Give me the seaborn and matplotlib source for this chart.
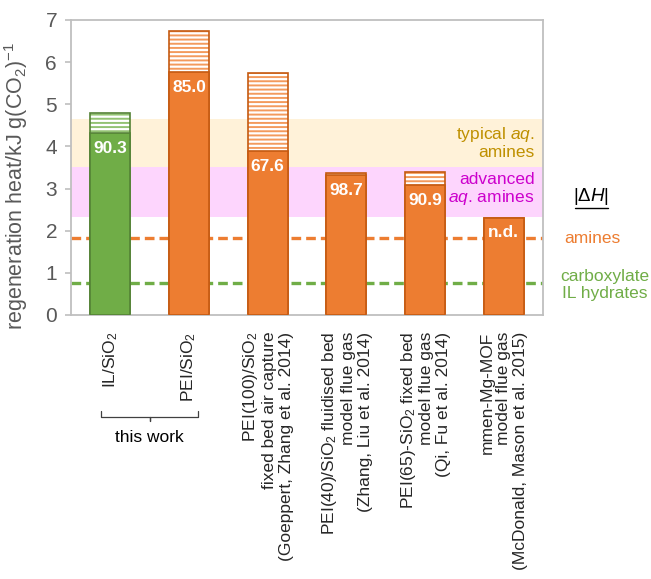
import matplotlib
matplotlib.use("Agg")
import matplotlib.pyplot as plt
from matplotlib.patches import Rectangle
from matplotlib.lines import Line2D
import seaborn as sns
import pandas as pd

# ---- data -------------------------------------------------------------
materials = [
    r"IL/SiO$_2$",
    r"PEI/SiO$_2$",
    "PEI(100)/SiO$_2$\nfixed bed air capture\n(Goeppert, Zhang et al. 2014)",
    "PEI(40)/SiO$_2$ fluidised bed\nmodel flue gas\n(Zhang, Liu et al. 2014)",
    "PEI(65)-SiO$_2$ fixed bed\nmodel flue gas\n(Qi, Fu et al. 2014)",
    "mmen-Mg-MOF\nmodel flue gas\n(McDonald, Mason et al. 2015)",
]
sorbent_type = ["ionic liquid", "amine", "amine", "amine", "amine", "amine"]
# regeneration heat: desorption share (solid) and total incl. sensible heat (hatched)
solid_heat = [4.32, 5.76, 3.88, 3.32, 3.08, 2.31]
total_heat = [4.80, 6.75, 5.74, 3.37, 3.39, 2.31]
bar_labels = ["90.3", "85.0", "67.6", "98.7", "90.9", "n.d."]

typical_aq_band = (3.52, 4.65)
advanced_aq_band = (2.33, 3.52)
amine_dH = 1.82
carboxylate_dH = 0.77

# ---- style ------------------------------------------------------------
sns.set_style("white")
plt.rcParams["font.family"] = ["Liberation Sans", "DejaVu Sans"]
plt.rcParams["mathtext.fontset"] = "custom"
plt.rcParams["mathtext.rm"] = "Liberation Sans"
plt.rcParams["mathtext.it"] = "Liberation Sans:italic"
plt.rcParams["mathtext.bf"] = "Liberation Sans:bold"
plt.rcParams["mathtext.default"] = "regular"
plt.rcParams["hatch.linewidth"] = 1.4

GREEN, GREEN_EDGE, GREEN_HATCH = "#70AD47", "#548235", "#93C272"
ORANGE, ORANGE_EDGE, ORANGE_HATCH = "#ED7D31", "#C55A11", "#F39A5C"
GREY_TXT = "#595959"
SPINE = "#BFBFBF"

fill_colors = {"ionic liquid": GREEN, "amine": ORANGE}
edge_colors = {"ionic liquid": GREEN_EDGE, "amine": ORANGE_EDGE}
hatch_colors = {"ionic liquid": GREEN_HATCH, "amine": ORANGE_HATCH}

df = pd.DataFrame({"material": materials, "total": total_heat,
                   "solid": solid_heat, "sorbent": sorbent_type})

fig = plt.figure(figsize=(6.51, 5.79), dpi=100)
ax = fig.add_axes([0.109, 0.456, 0.725, 0.5095])

# reference ranges for aqueous amine processes
ax.axhspan(*typical_aq_band, color="#FFF2D9", lw=0, zorder=0)
ax.axhspan(*advanced_aq_band, color="#FDD5FD", lw=0, zorder=0)
ax.axhline(amine_dH, color=ORANGE, lw=2.4, dashes=(2.9, 1.5), zorder=1)
ax.axhline(carboxylate_dH, color=GREEN, lw=2.4, dashes=(2.9, 1.5), zorder=1)

# total regeneration heat (hatched part)
n0 = len(ax.patches)
sns.barplot(data=df, x="material", y="total", hue="material",
            palette=[hatch_colors[s] for s in sorbent_type], legend=False,
            saturation=1, width=0.51, ax=ax, zorder=2)
total_patches = ax.patches[n0:]
for p, s in zip(total_patches, sorbent_type):
    p.set_facecolor("white")
    p.set_edgecolor(hatch_colors[s])
    p.set_hatch("----")
    p.set_linewidth(0)
    ax.add_patch(Rectangle(p.get_xy(), p.get_width(), p.get_height(),
                           fill=False, ec=edge_colors[s], lw=1.2, zorder=2.5))

# solid part
n1 = len(ax.patches)
sns.barplot(data=df, x="material", y="solid", hue="material",
            palette=[fill_colors[s] for s in sorbent_type], legend=False,
            saturation=1, width=0.51, ax=ax, zorder=3)
solid_patches = ax.patches[n1:]
for p, s, lab in zip(solid_patches, sorbent_type, bar_labels):
    p.set_edgecolor(edge_colors[s])
    p.set_linewidth(1.2)
    ax.annotate(lab, (p.get_x() + p.get_width() / 2, p.get_height()),
                xytext=(0, -11), textcoords="offset points",
                ha="center", va="center", color="white",
                fontsize=12.5, fontweight="bold", zorder=4)

# axes
ax.set_ylim(0, 7)
ax.set_xlim(-0.5, len(materials) - 0.5)
ax.set_yticks(range(0, 8))
ax.set_xlabel("")
ax.set_ylabel(r"regeneration heat/kJ g(CO$_2$)$^{-1}$", color=GREY_TXT, fontsize=15.5)
ax.yaxis.set_label_coords(-0.086, 0.439)
for sp in ax.spines.values():
    sp.set_visible(True)
    sp.set_color(SPINE)
    sp.set_linewidth(1.3)
ax.tick_params(axis="y", colors=SPINE, labelcolor=GREY_TXT, labelsize=15,
               length=4, width=1.2, direction="out", left=True, pad=6)
ax.tick_params(axis="x", length=0, pad=12, labelsize=12.5)
ax.set_xticks(range(len(materials)))
ax.set_xticklabels(materials, rotation=90, ha="center", va="top",
                   multialignment="right", linespacing=1.15)

# band captions
ytr = ax.get_yaxis_transform()
ax.text(0.983, 4.10, "typical $\\mathit{aq}$.\namines", transform=ytr,
        ha="right", va="center", multialignment="right", color="#BF9000",
        fontsize=12.5, linespacing=1.1, zorder=5)
ax.text(0.983, 2.98, "advanced\n$\\mathit{aq}$. amines", transform=ytr,
        ha="right", va="center", multialignment="right", color="#CC00CC",
        fontsize=12.5, linespacing=1.1, zorder=5)

# enthalpy legend on the right
ax.text(1.102, 2.80, r"|$\Delta$$\mathit{H}$|", transform=ytr, ha="center", va="center",
        color="black", fontsize=13.5, clip_on=False)
fig.add_artist(Line2D([575 / 651, 608 / 651], [1 - 208 / 579, 1 - 208 / 579],
                      color="black", lw=1.0))
ax.text(1.104, amine_dH, "amines", transform=ytr, ha="center", va="center",
        color=ORANGE, fontsize=12.5, clip_on=False)
ax.text(1.131, 0.71, "carboxylate\nIL hydrates", transform=ytr, ha="center", va="center",
        color=GREEN, fontsize=12.5, linespacing=1.1, clip_on=False)

# "this work" brace under the first two bars
xtr = ax.get_xaxis_transform()
bx0, bx1 = -0.114, 1.114
ytop, ymid, ytip = -0.325, -0.346, -0.359
xm = (bx0 + bx1) / 2
brace = Line2D([bx0, bx0, xm, xm, xm, bx1, bx1],
               [ytop, ymid, ymid, ytip, ymid, ymid, ytop],
               transform=xtr, color="#404040", lw=0.9, clip_on=False)
ax.add_line(brace)
ax.text(xm, -0.414, "this work", transform=xtr, ha="center", va="center",
        fontsize=12.5, color="black", clip_on=False)

fig.savefig("out.png", dpi=100)
